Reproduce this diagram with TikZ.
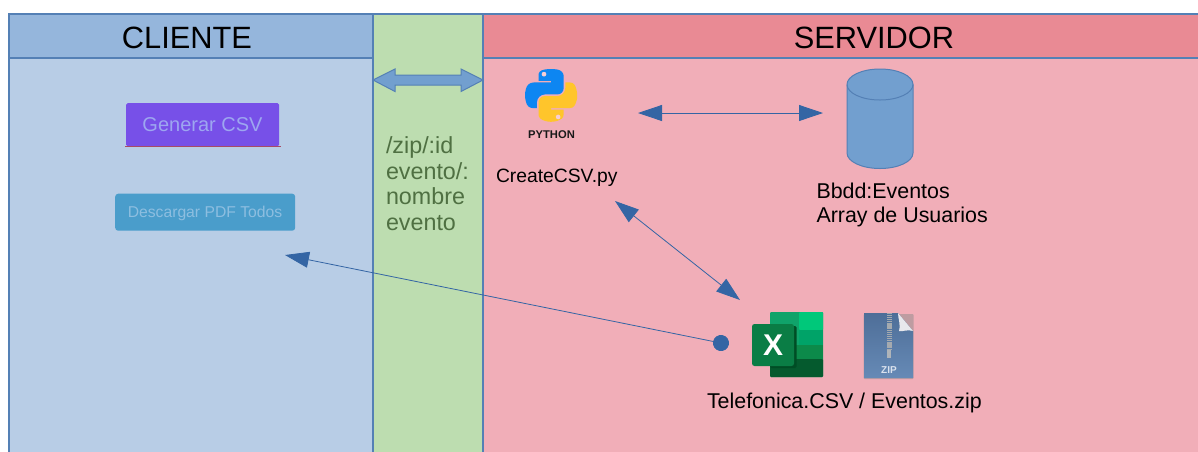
\documentclass[tikz,border=0pt]{standalone}
\usepackage{fontspec}
\setmainfont{Liberation Sans}
\usetikzlibrary{arrows.meta}
\definecolor{edgeblue}{HTML}{5480B5}
\definecolor{cliHead}{HTML}{95B6DC}
\definecolor{cliBody}{HTML}{B8CDE6}
\definecolor{midBody}{HTML}{BDDDB0}
\definecolor{srvHead}{HTML}{E98A94}
\definecolor{srvBody}{HTML}{F1AEB8}
\definecolor{arrowblue}{HTML}{3465A4}
\definecolor{softblue}{HTML}{729FCF}
\definecolor{midtext}{HTML}{4F7042}
\definecolor{btnPurple}{HTML}{7750E8}
\definecolor{btnLine}{HTML}{A84A66}
\definecolor{btnPurpleT}{HTML}{9DA6F0}
\definecolor{btnBlue}{HTML}{4A9DCB}
\definecolor{btnBlueT}{HTML}{8DBEE0}
\definecolor{pyBlue}{HTML}{0D86F2}
\definecolor{pyYellow}{HTML}{FFC52B}
\definecolor{xlA}{HTML}{10A36A}
\definecolor{xlB}{HTML}{00C87A}
\definecolor{xlC}{HTML}{00A368}
\definecolor{xlD}{HTML}{0C8A4A}
\definecolor{xlE}{HTML}{055A2E}
\definecolor{xlF}{HTML}{004D25}
\definecolor{xlG}{HTML}{0A7D45}
\definecolor{zipTop}{HTML}{4E6E98}
\definecolor{zipBot}{HTML}{668AB6}
\definecolor{zipFold}{HTML}{E8E8EC}
\definecolor{zipTeeth}{HTML}{A5AAAF}
\definecolor{zipPull}{HTML}{AFB4B9}
\definecolor{zipText}{HTML}{DAE2EE}
\tikzset{
  panel/.style={draw=edgeblue,line width=1.2pt,inner sep=0pt,outer sep=0pt,anchor=north west},
  txt/.style={anchor=base west,inner sep=0pt,outer sep=0pt,font=\fontsize{19.3}{24}\selectfont,text=black,align=left},
  headtxt/.style={anchor=base,inner sep=0pt,font=\fontsize{30.8}{32}\selectfont,text=black},
  thinlink/.style={draw=arrowblue,line width=0.8pt,{Triangle[length=24pt,width=16pt]}-{Triangle[length=24pt,width=16pt]}},
  oneway/.style={draw=arrowblue,line width=0.8pt,{Circle[length=16pt,width=16pt]}-{Triangle[length=24pt,width=16pt]}},
}
\begin{document}
\begin{tikzpicture}[x=1pt,y=-1pt]
\useasboundingbox (0,0) rectangle (1198,451);
\fill[white] (0,0) rectangle (1198,451);
\clip (0,0) rectangle (1198,451);
% panels
\node[panel,fill=cliBody,minimum width=364pt,minimum height=450pt] (cliP) at (9,14) {};
\node[panel,fill=midBody,minimum width=110pt,minimum height=450pt] (midP) at (373,14) {};
\node[panel,fill=srvBody,minimum width=740pt,minimum height=450pt] (srvP) at (483,14) {};
\node[panel,fill=cliHead,minimum width=364pt,minimum height=44pt] (cliH) at (9,14) {};
\node[panel,fill=srvHead,minimum width=740pt,minimum height=44pt] (srvH) at (483,14) {};
\node[headtxt] (cliT) at (187,48.5) {CLIENTE};
\node[headtxt] (srvT) at (874,48.5) {SERVIDOR};
% block double arrow
\draw[edgeblue,fill=softblue,line width=1pt,line join=miter] (373,80) -- (395,69) -- (395,75) -- (461,75) -- (461,69) -- (483,80) -- (461,91.5) -- (461,85) -- (395,85) -- (395,91.5) -- cycle;
% buttons
\node[anchor=north west,fill=btnPurple,inner sep=0pt,rounded corners=1.5pt,minimum width=153pt,minimum height=43pt] (btnA) at (126,103) {};
\draw[btnLine,line width=1.4pt] (125,146.6) -- (281,146.6);
\node[anchor=base,inner sep=0pt,font=\fontsize{20}{24}\selectfont,text=btnPurpleT] (btnAt) at (202.5,131) {Generar CSV};
\node[anchor=north west,fill=btnBlue,inner sep=0pt,rounded corners=3pt,minimum width=180pt,minimum height=37pt] (btnB) at (115,193.5) {};
\node[anchor=base,inner sep=0pt,font=\fontsize{15.7}{18}\selectfont,text=btnBlueT] (btnBt) at (205,217) {Descargar PDF Todos};
% mid text
\node[txt,text=midtext,font=\fontsize{23.3}{25.8}\selectfont,anchor=north west] (route) at (386,136.5) {/zip/:id\\evento/:\\nombre\\evento};
% python logo
\begin{scope}[shift={(525,69)},scale=0.47]
\fill[pyBlue] (54.92,0) .. controls (50.33,0.02) and (45.96,0.41) .. (42.11,1.09)
 .. controls (30.76,3.09) and (28.71,7.29) .. (28.71,15.03) -- (28.71,25.25) -- (55.51,25.25) -- (55.51,28.66) -- (18.66,28.66)
 .. controls (10.87,28.66) and (4.04,33.34) .. (1.91,42.25) .. controls (-0.55,52.46) and (-0.66,58.83) .. (1.91,69.48)
 .. controls (3.81,77.41) and (8.36,83.06) .. (16.15,83.06) -- (25.36,83.06) -- (25.36,70.81)
 .. controls (25.36,61.96) and (33.02,54.15) .. (42.11,54.15) -- (68.88,54.15)
 .. controls (76.33,54.15) and (82.28,48.01) .. (82.28,40.53) -- (82.28,15.03)
 .. controls (82.28,7.77) and (76.16,2.32) .. (68.88,1.09) .. controls (64.28,0.33) and (59.50,-0.02) .. (54.92,0) -- cycle;
\fill[pyYellow] (85.64,28.66) -- (85.64,40.56) .. controls (85.64,49.78) and (77.82,57.54) .. (68.88,57.54)
 -- (42.11,57.54) .. controls (34.78,57.54) and (28.71,63.82) .. (28.71,71.16) -- (28.71,96.67)
 .. controls (28.71,103.93) and (35.02,108.20) .. (42.11,110.28) .. controls (50.60,112.78) and (58.74,113.23) .. (68.88,110.28)
 .. controls (75.62,108.33) and (82.28,104.40) .. (82.28,96.67) -- (82.28,86.46) -- (55.51,86.46) -- (55.51,83.06) -- (95.68,83.06)
 .. controls (103.47,83.06) and (106.38,77.62) .. (109.09,69.48) .. controls (111.89,61.08) and (111.77,53.01) .. (109.09,42.25)
 .. controls (107.16,34.50) and (103.48,28.66) .. (95.68,28.66) -- cycle;
\fill[srvBody!60!white] (40.4,11) circle (5);
\fill[srvBody!60!white] (70.5,102) circle (5);
\end{scope}
\node[anchor=base,inner sep=0pt,font=\bfseries\fontsize{11.2}{13}\selectfont,text=black!90] (pyT) at (551.5,138) {PYTHON};
\node[txt] (createT) at (496,182) {CreateCSV.py};
% database
\path[fill=softblue,draw=edgeblue,line width=1pt] (847,84.5) -- (847,153) arc[start angle=180,end angle=360,x radius=33,y radius=-15.5] -- (913,84.5) arc[start angle=0,end angle=180,x radius=33,y radius=-15.5] -- cycle;
\draw[edgeblue,line width=1pt] (847,84.5) arc[start angle=180,end angle=360,x radius=33,y radius=-15.5];
\node[txt,font=\fontsize{21.4}{24}\selectfont,anchor=north west] (dbT) at (816.5,182.5) {Bbdd:Eventos\\Array de Usuarios};
% excel icon
\fill[xlA,rounded corners=1pt] (770,312) rectangle (823,377);
\fill[xlB,rounded corners=1pt] (799,312) rectangle (823,330);
\fill[xlC] (799,330) rectangle (823,345);
\fill[xlD] (770,345) rectangle (823,359);
\fill[xlE,rounded corners=1pt] (770,359) rectangle (823,377);
\fill[xlF,rounded corners=1.5pt] (770,326) rectangle (796.5,368);
\fill[xlG,rounded corners=2.5pt] (752,324) rectangle (794,366);
\node[anchor=center,inner sep=0pt,text=white,font=\bfseries\fontsize{30}{32}\selectfont] (xlsX) at (773,345) {X};
% zip icon
\fill[black!45,opacity=0.5,rounded corners=1pt] (863.5,314) rectangle (913.5,379);
\shade[top color=zipTop,bottom color=zipBot] (864,313) -- (898,313) -- (913,331) -- (913,378) -- (864,378) -- cycle;
\fill[zipFold] (898,313) -- (913,331) .. controls (908,329) and (902,332) .. (899,331) .. controls (901,326) and (898,318) .. (898,313) -- cycle;
\draw[zipTeeth,line width=5pt,dash pattern=on 1.2pt off 0.7pt] (889,313) -- (889,350);
\fill[zipPull] (887,350) rectangle (891,358);
\node[anchor=base,inner sep=0pt,text=zipText,font=\bfseries\fontsize{10}{11}\selectfont] (zipT) at (889,373.5) {ZIP};
\node[txt,font=\fontsize{21.4}{24}\selectfont] (fileT) at (707,408) {Telefonica.CSV / Eventos.zip};
% connector ends
\coordinate (pyOut) at (638,113);
\coordinate (dbIn) at (823,113);
\coordinate (scriptOut) at (615,201);
\coordinate (fileIn) at (740,300);
\coordinate (fileOut) at (728.8,344.6);
\coordinate (pdfBtn) at (285,255);
\draw[thinlink] (pyOut) -- (dbIn);
\draw[thinlink] (scriptOut) -- (fileIn);
\draw[oneway] (fileOut) -- (pdfBtn);
\end{tikzpicture}
\end{document}
